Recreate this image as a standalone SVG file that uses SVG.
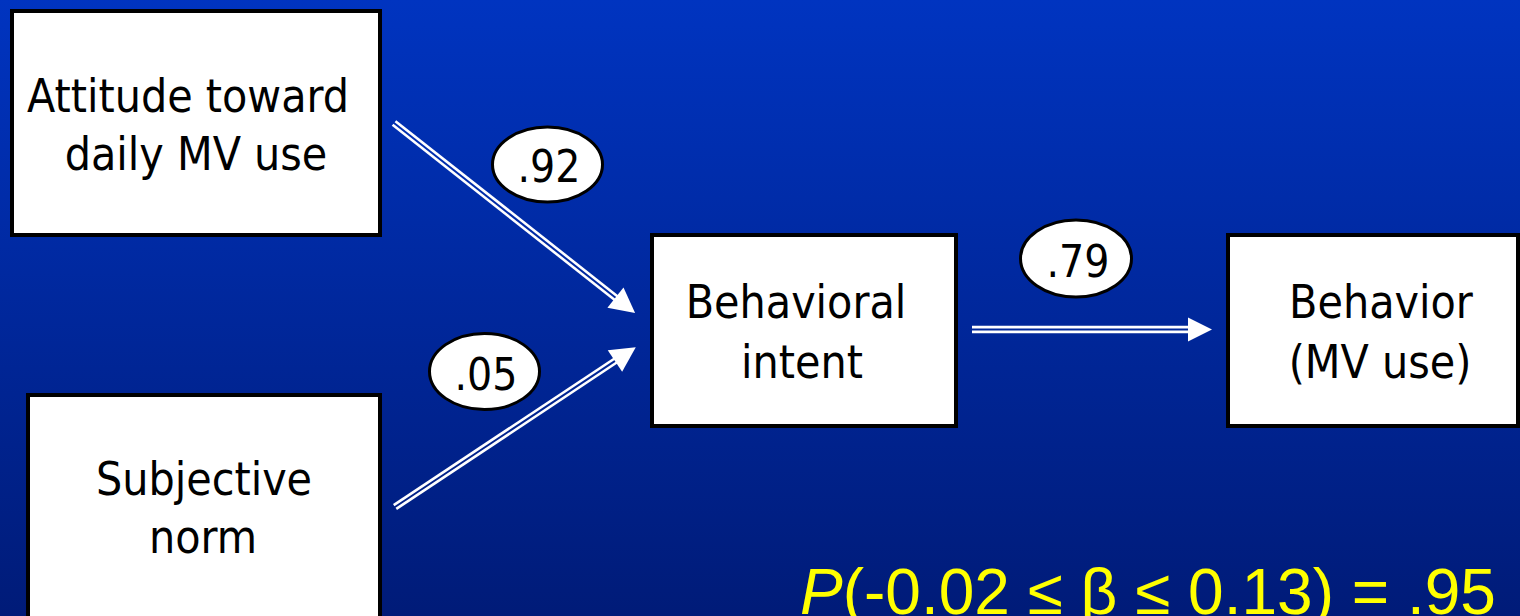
<svg xmlns="http://www.w3.org/2000/svg" width="1520" height="616" viewBox="0 0 1520 616">
  <defs>
    <linearGradient id="bg" x1="0" y1="0" x2="0" y2="1">
      <stop offset="0" stop-color="#0034C0"/>
      <stop offset="1" stop-color="#001B78"/>
    </linearGradient>
    <style>
      .box { fill: #FFFFFF; stroke: #000000; stroke-width: 4; }
      .lbl { font-family: "DejaVu Sans Condensed", "DejaVu Sans", sans-serif; font-stretch: condensed; font-size: 46px; fill: #000000; text-anchor: middle; }
      .coef { fill: #FFFFFF; stroke: #000000; stroke-width: 3; }
      .num { font-family: "DejaVu Sans Condensed", "DejaVu Sans", sans-serif; font-stretch: condensed; font-size: 44px; fill: #000000; text-anchor: middle; }
      .rail { stroke: #FFFFFF; stroke-width: 2.6; fill: none; }
      .head { fill: #FFFFFF; }
      .prob { font-family: "Liberation Sans", Arial, sans-serif; font-size: 64px; fill: #FFFF00; }
    </style>
  </defs>

  <rect x="0" y="0" width="1520" height="616" fill="url(#bg)"/>

  <!-- double-line arrows -->
  <g id="connectors">
    <g id="edge-attitude-intent" transform="translate(394,123) rotate(38.25)">
      <line class="rail" x1="0" y1="-2.3" x2="283" y2="-2.3"/>
      <line class="rail" x1="0" y1="2.3" x2="283" y2="2.3"/>
      <polygon class="head" points="307,0 282,-13 282,13"/>
    </g>
    <g id="edge-norm-intent" transform="translate(395,507) rotate(-33.58)">
      <line class="rail" x1="0" y1="-2.3" x2="266" y2="-2.3"/>
      <line class="rail" x1="0" y1="2.3" x2="266" y2="2.3"/>
      <polygon class="head" points="289,0 264,-13 264,13"/>
    </g>
    <g id="edge-intent-behavior" transform="translate(972,329.5)">
      <line class="rail" x1="0" y1="-2.4" x2="218" y2="-2.4"/>
      <line class="rail" x1="0" y1="2.4" x2="218" y2="2.4"/>
      <polygon class="head" points="240,0 216,-12 216,12"/>
    </g>
  </g>

  <g id="node-attitude">
    <rect class="box" x="12" y="11" width="368" height="224"/>
    <text class="lbl" x="188" y="112">Attitude toward</text>
    <text class="lbl" x="196" y="170">daily MV use</text>
  </g>

  <g id="node-norm">
    <rect class="box" x="28" y="395" width="352" height="240"/>
    <text class="lbl" x="204" y="495">Subjective</text>
    <text class="lbl" x="203" y="553">norm</text>
  </g>

  <g id="node-intent">
    <rect class="box" x="652" y="235" width="304" height="191"/>
    <text class="lbl" x="796" y="318">Behavioral</text>
    <text class="lbl" x="802" y="378">intent</text>
  </g>

  <g id="node-behavior">
    <rect class="box" x="1228" y="235" width="290" height="191"/>
    <text class="lbl" x="1381" y="318">Behavior</text>
    <text class="lbl" x="1380" y="378">(MV use)</text>
  </g>

  <g id="coef-092">
    <ellipse class="coef" cx="547.5" cy="164.5" rx="55" ry="37.5"/>
    <text class="num" x="549" y="182">.92</text>
  </g>
  <g id="coef-005">
    <ellipse class="coef" cx="484.5" cy="371.5" rx="55" ry="38"/>
    <text class="num" x="486" y="390">.05</text>
  </g>
  <g id="coef-079">
    <ellipse class="coef" cx="1076" cy="258.5" rx="55.5" ry="38.5"/>
    <text class="num" x="1078" y="277">.79</text>
  </g>

  <text class="prob" x="800" y="614"><tspan font-style="italic">P</tspan>(-0.02 ≤ β ≤ 0.13) = .95</text>
</svg>
